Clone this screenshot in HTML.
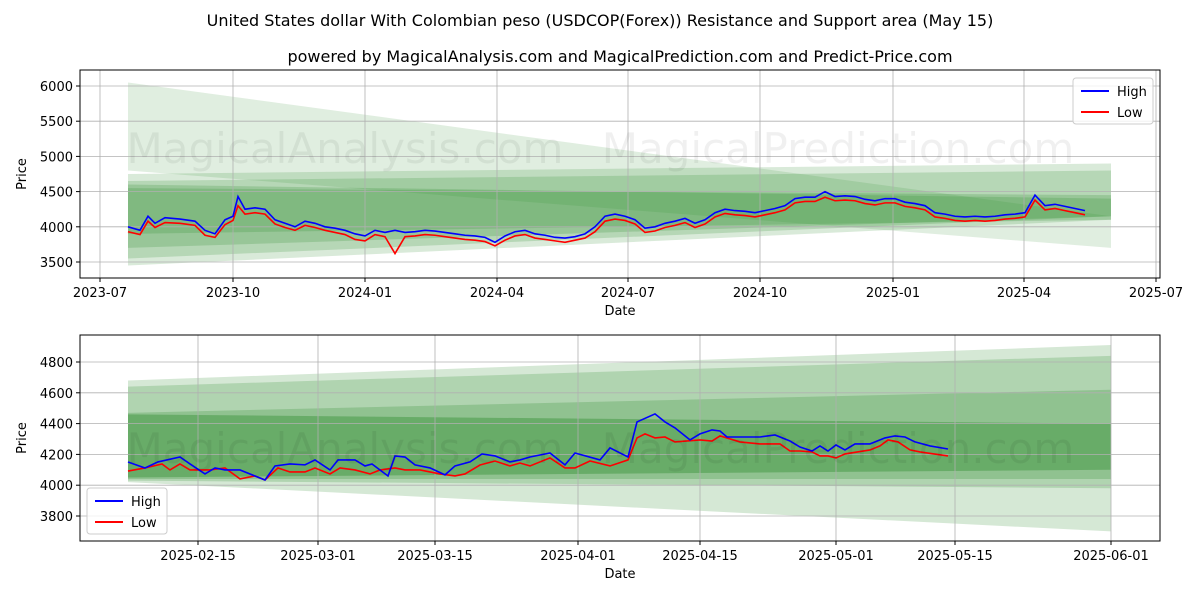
<!DOCTYPE html>
<html><head><meta charset="utf-8"><style>
body{margin:0;background:#fff;font-family:"Liberation Sans","DejaVu Sans",sans-serif}
svg text{font-family:"DejaVu Sans","Liberation Sans",sans-serif}
</style></head><body>
<svg id="c" width="1200" height="600"></svg>
<script>
// ---- top chart data ----
const topX=[128,140,148,155,165,180,195,205,215,225,233,238,245,255,265,275,285,295,305,315,325,335,345,355,365,375,385,395,405,415,425,435,445,455,465,475,485,495,505,515,525,535,545,555,565,575,585,595,605,615,625,635,645,655,665,675,685,695,705,715,725,735,745,755,765,775,785,795,805,815,825,835,845,855,865,875,885,895,905,915,925,935,945,955,965,975,985,995,1005,1015,1025,1035,1045,1055,1065,1075,1085];
const topHigh=[4000,3950,4150,4050,4130,4110,4080,3950,3900,4100,4150,4430,4250,4270,4250,4100,4050,4000,4080,4050,4000,3980,3950,3900,3870,3950,3920,3950,3920,3930,3950,3940,3920,3900,3880,3870,3850,3780,3870,3930,3950,3900,3880,3850,3840,3860,3900,4000,4150,4180,4150,4100,3980,4000,4050,4080,4120,4050,4100,4200,4250,4230,4220,4200,4230,4260,4300,4400,4420,4420,4500,4430,4440,4430,4390,4370,4400,4400,4350,4330,4300,4200,4180,4150,4140,4150,4140,4150,4170,4180,4200,4450,4300,4320,4290,4260,4230];
const topLow=[3930,3890,4080,3990,4060,4050,4020,3880,3850,4030,4090,4300,4180,4200,4180,4040,3990,3950,4020,3990,3950,3920,3890,3820,3800,3890,3860,3620,3860,3870,3890,3880,3860,3840,3820,3810,3790,3730,3810,3870,3890,3840,3820,3800,3780,3810,3840,3930,4080,4110,4090,4040,3920,3940,3990,4020,4060,3990,4040,4140,4190,4170,4160,4140,4170,4200,4240,4340,4360,4360,4420,4370,4380,4370,4330,4310,4340,4340,4290,4270,4240,4140,4120,4090,4080,4090,4080,4090,4110,4120,4140,4380,4240,4260,4230,4200,4170];
const topYTicks=[3500,4000,4500,5000,5500,6000];
const topXTicks=["2023-07","2023-10","2024-01","2024-04","2024-07","2024-10","2025-01","2025-04","2025-07"];
const topXTickPos=[100,233,365,497,628,760,893,1024,1156];
// bands: [left-low,left-high,right-low,right-high,opacity]
const topBands=[[4800,6050,3700,4150,0.15],[3450,4750,4100,4900,0.18],[3550,4650,4150,4800,0.2],[3700,4600,4150,4400,0.22],[3900,4550,4100,4450,0.22]];
// ---- bottom chart data ----
const botHX=[128,145,158,180,190,205,215,225,240,255,265,275,290,305,315,330,338,355,365,372,388,395,405,415,430,445,455,470,482,495,510,520,530,550,565,575,600,610,628,637,655,665,675,690,700,712,720,727,760,775,790,800,812,820,828,836,845,855,870,885,895,905,915,930,948];
const botHigh=[4151,4112,4151,4183,4138,4073,4112,4099,4099,4060,4034,4125,4138,4132,4164,4099,4164,4164,4125,4138,4060,4190,4183,4132,4112,4067,4125,4151,4203,4190,4151,4164,4183,4209,4132,4209,4164,4242,4183,4411,4463,4411,4372,4294,4333,4359,4352,4313,4313,4326,4287,4248,4222,4255,4222,4261,4229,4268,4268,4307,4320,4313,4281,4255,4235];
const botLX=[128,145,162,170,180,190,210,225,240,255,265,278,290,305,315,330,340,355,370,380,395,405,420,440,455,465,480,495,510,520,530,550,565,575,590,610,628,637,645,655,665,675,700,712,720,740,760,780,790,800,812,820,828,836,845,870,880,888,898,910,920,948];
const botLow=[4092,4112,4138,4099,4138,4099,4099,4112,4041,4060,4034,4112,4086,4086,4112,4073,4112,4099,4073,4099,4112,4099,4099,4073,4060,4073,4131,4157,4125,4144,4125,4177,4112,4112,4157,4125,4164,4307,4333,4307,4313,4281,4294,4287,4320,4281,4268,4268,4222,4222,4216,4190,4190,4177,4203,4229,4255,4294,4281,4229,4216,4190];
const botYTicks=[3800,4000,4200,4400,4600,4800];
const botXTicks=["2025-02-15","2025-03-01","2025-03-15","2025-04-01","2025-04-15","2025-05-01","2025-05-15","2025-06-01"];
const botXTickPos=[198,318,435,578,700,836,955,1111];
const botBands=[[4020,4680,3700,4910,0.2],[4030,4640,3980,4840,0.22],[4040,4470,4040,4620,0.25],[4050,4460,4100,4400,0.4]];

const NS="http://www.w3.org/2000/svg";
const svg=document.getElementById('c');
function mk(t,a,p){const e=document.createElementNS(NS,t);for(const k in a)e.setAttribute(k,a[k]);(p||svg).appendChild(e);return e;}
function txt(s,x,y,a,name){const e=mk('text',Object.assign({x:x,y:y,'font-size':13,fill:'#000'},a||{}));e.textContent=s;return e;}

function panel(o){
  const g=mk('g',{});
  
  
  const yv=v=>o.y0+(o.v0-v)*o.k;
  o.bands.forEach(b=>{
    const p=mk('polygon',{points:`128,${yv(b[0])} 128,${yv(b[1])} 1111,${yv(b[3])} 1111,${yv(b[2])}`,fill:'#2e8b2e','fill-opacity':b[4]},g);
    
    
  });
  o.yt.forEach(v=>{mk('line',{x1:o.l,x2:o.r,y1:yv(v),y2:yv(v),stroke:'#b0b0b0','stroke-width':0.8},g);
    mk('line',{x1:o.l-4,x2:o.l,y1:yv(v),y2:yv(v),stroke:'#000'},g);
    txt(String(v),o.l-7,yv(v)+5,{'text-anchor':'end','font-size':13},'y-tick-label');});
  o.xt.forEach((s,i)=>{const x=o.xp[i];mk('line',{x1:x,x2:x,y1:o.t,y2:o.b,stroke:'#b0b0b0','stroke-width':0.8},g);
    mk('line',{x1:x,x2:x,y1:o.b,y2:o.b+4,stroke:'#000'},g);
    txt(s,x,o.b+19,{'text-anchor':'middle'},'x-tick-label');});
  txt('MagicalAnalysis.com',345,o.wm,{'text-anchor':'middle','font-size':42,fill:'#000','fill-opacity':0.06},'watermark');
  txt('MagicalPrediction.com',838,o.wm,{'text-anchor':'middle','font-size':42,fill:'#000','fill-opacity':0.06},'watermark');
  const hp=o.hx.map((x,i)=>x+','+yv(o.hi[i])).join(' ');
  const lp=o.lx.map((x,i)=>x+','+yv(o.lo[i])).join(' ');
  const l2=mk('polyline',{points:lp,fill:'none',stroke:'#ff0000','stroke-width':1.6},g);
  
  const l1=mk('polyline',{points:hp,fill:'none',stroke:'#0000ff','stroke-width':1.6},g);
  
  mk('rect',{x:o.l,y:o.t,width:o.r-o.l,height:o.b-o.t,fill:'none',stroke:'#000','stroke-width':1},g);
  txt('Date',(o.l+o.r)/2,o.b+37,{'text-anchor':'middle'},'x-axis-title');
  txt('Price',0,0,{'text-anchor':'middle',transform:`translate(26,${(o.t+o.b)/2}) rotate(-90)`},'y-axis-title');
  const lg=mk('g',{},g);
  mk('rect',{x:o.lgx,y:o.lgy,width:80,height:46,rx:3,fill:'#fff','fill-opacity':0.8,stroke:'#ccc'},lg);
  mk('line',{x1:o.lgx+8,x2:o.lgx+36,y1:o.lgy+13,y2:o.lgy+13,stroke:'#0000ff','stroke-width':2},lg);
  mk('line',{x1:o.lgx+8,x2:o.lgx+36,y1:o.lgy+34,y2:o.lgy+34,stroke:'#ff0000','stroke-width':2},lg);
  txt('High',o.lgx+44,o.lgy+18,{},'legend-high');
  txt('Low',o.lgx+44,o.lgy+39,{},'legend-low');
}
txt('United States dollar With Colombian peso (USDCOP(Forex)) Resistance and Support area (May 15)',600,26,{'text-anchor':'middle','font-size':16},'chart-title');
txt('powered by MagicalAnalysis.com and MagicalPrediction.com and Predict-Price.com',620,62,{'text-anchor':'middle','font-size':16},'chart-subtitle');
panel({name:'top-panel',l:80,r:1160,t:70,b:278,y0:86,v0:6000,k:0.0704,yt:topYTicks,xt:topXTicks,xp:topXTickPos,bands:topBands,hx:topX,hi:topHigh,lx:topX,lo:topLow,wm:163,lgx:1073,lgy:78});
panel({name:'bottom-panel',l:80,r:1160,t:335,b:541,y0:362,v0:4800,k:0.154,yt:botYTicks,xt:botXTicks,xp:botXTickPos,bands:botBands,hx:botHX,hi:botHigh,lx:botLX,lo:botLow,wm:463,lgx:87,lgy:488});
</script>
</body></html>
